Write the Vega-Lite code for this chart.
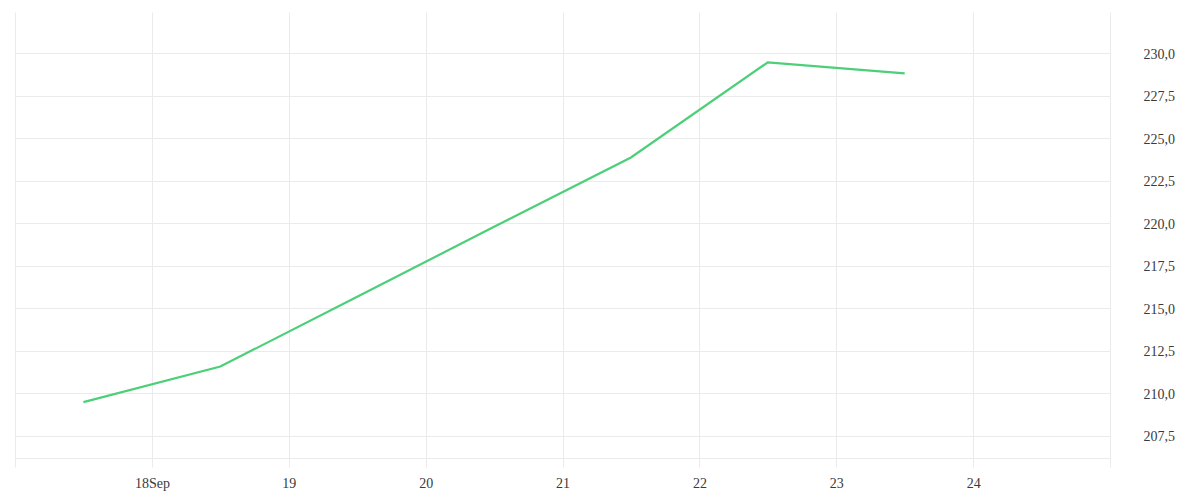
{
  "$schema": "https://vega.github.io/schema/vega-lite/v6.json",
  "width": 1095,
  "height": 446,
  "autosize": {"type": "none"},
  "padding": {"left": 15, "top": 12, "right": 90, "bottom": 42},
  "background": "white",
  "config": {
    "view": {"stroke": null},
    "axis": {"labelFont": "Liberation Serif", "labelFontSize": 14, "labelColor": "#3a3a3a", "gridColor": "#ebebeb", "gridWidth": 1}
  },
  "data": {
    "values": [
      {"date": "2023-09-17T12:00:00", "value": 209.48},
      {"date": "2023-09-18T12:00:00", "value": 211.57},
      {"date": "2023-09-19T12:00:00", "value": 215.68},
      {"date": "2023-09-20T12:00:00", "value": 219.79},
      {"date": "2023-09-21T12:00:00", "value": 223.87},
      {"date": "2023-09-22T12:00:00", "value": 229.47},
      {"date": "2023-09-23T12:00:00", "value": 228.82}
    ]
  },
  "mark": {"type": "line", "color": "#4ccf78", "strokeWidth": 2.2},
  "encoding": {
    "x": {
      "field": "date",
      "type": "temporal",
      "title": null,
      "scale": {"domain": [{"year": 2023, "month": 9, "date": 17}, {"year": 2023, "month": 9, "date": 25}], "nice": false},
      "axis": {
        "values": [
          {"year": 2023, "month": 9, "date": 17},
          {"year": 2023, "month": 9, "date": 18},
          {"year": 2023, "month": 9, "date": 19},
          {"year": 2023, "month": 9, "date": 20},
          {"year": 2023, "month": 9, "date": 21},
          {"year": 2023, "month": 9, "date": 22},
          {"year": 2023, "month": 9, "date": 23},
          {"year": 2023, "month": 9, "date": 24},
          {"year": 2023, "month": 9, "date": 25}
        ],
        "labelExpr": "date(datum.value) == 18 ? '18Sep' : (date(datum.value) == 17 || date(datum.value) == 25) ? '' : toString(date(datum.value))",
        "grid": true,
        "domain": true,
        "domainColor": "#ebebeb",
        "domainWidth": 1,
        "ticks": true,
        "tickColor": "#ebebeb",
        "tickSize": 9,
        "labelPadding": 9,
        "labelOverlap": false,
        "labelFlush": false,
        "labelBound": false
      }
    },
    "y": {
      "field": "value",
      "type": "quantitative",
      "title": null,
      "scale": {"domain": [206.19, 232.43], "nice": false, "zero": false},
      "axis": {
        "orient": "right",
        "values": [207.5, 210, 212.5, 215, 217.5, 220, 222.5, 225, 227.5, 230],
        "labelExpr": "replace(format(datum.value, '.1f'), '.', ',')",
        "grid": true,
        "domain": false,
        "ticks": false,
        "tickSize": 0,
        "labelPadding": 33,
        "labelOffset": 1,
        "labelOverlap": false
      }
    }
  }
}
